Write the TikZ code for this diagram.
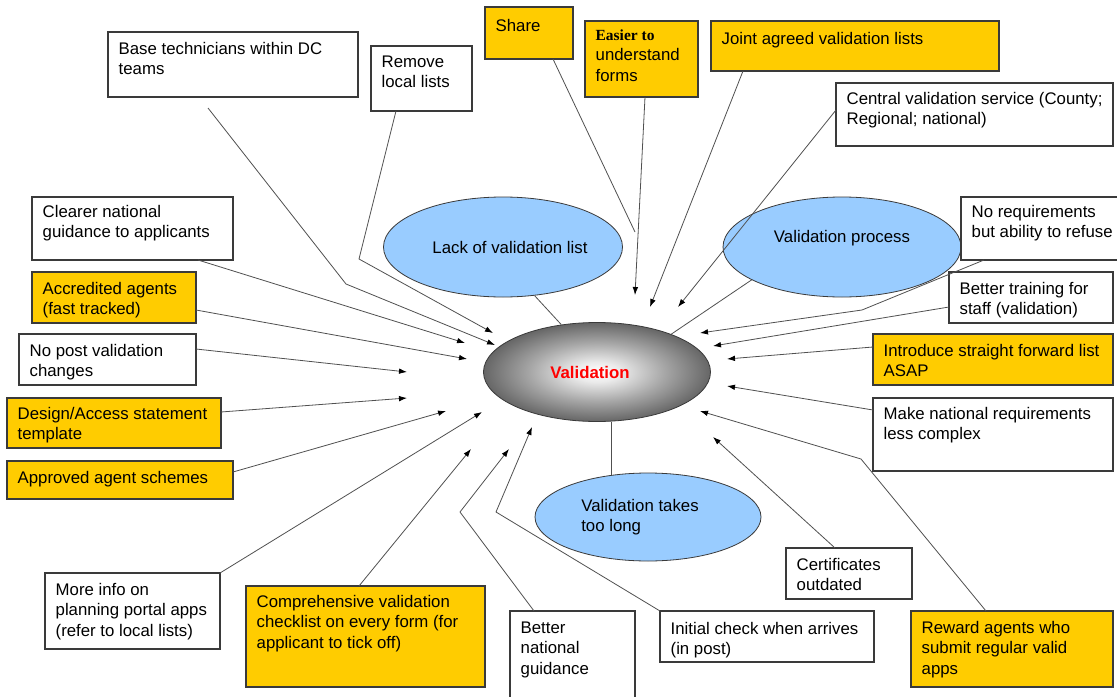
\documentclass[tikz,border=0pt]{standalone}
\usepackage{fontspec}
\setmainfont{Liberation Sans}
\newfontfamily\serifx{Liberation Serif}
\usetikzlibrary{arrows.meta,calc,shapes.geometric}
\definecolor{boxyellow}{HTML}{FFCC00}
\definecolor{ellblue}{HTML}{99CCFF}
\definecolor{linegray}{HTML}{505050}
\definecolor{edgegray}{HTML}{3A3A3A}
\pgfdeclareradialshading{valshade}{\pgfpoint{0bp}{0bp}}{color(0bp)=(white); color(5bp)=(white!92!black); color(15bp)=(black!35); color(25bp)=(black!60); color(50bp)=(black!60)}
\newcommand\bx[8]{%
  \pgfmathsetmacro\bw{(#4-#2)*0.75}%
  \pgfmathsetmacro\bh{(#5-#3)*0.75}%
  \pgfmathsetmacro\bt{#7*0.75}%
  \node[#6, anchor=north west, inner sep=0pt, outer sep=0pt, minimum width=\bw pt, minimum height=\bh pt] (#1) at (#2,#3)
    {\parbox[c][\bh pt][t]{\bw pt}{\hspace*{8pt}\begin{tabular}[t]{@{}l@{}}\rule{0pt}{\bt pt}#8\end{tabular}}};%
}
\tikzset{
  every node/.style={font=\fontsize{12.6}{15.4}\selectfont},
  wbox/.style={draw=edgegray, line width=0.8pt, fill=white},
  ybox/.style={draw=edgegray, line width=0.8pt, fill=boxyellow},
  bell/.style={ellipse, draw=edgegray, line width=0.6pt, fill=ellblue, inner sep=0pt},
  conn/.style={draw=linegray, line width=0.6pt},
  arr/.style={conn, -{Latex[length=6pt,width=4.2pt,color=black]}}
}
\begin{document}
\begin{tikzpicture}[x=0.75pt,y=-0.75pt]
\useasboundingbox[fill=white] (0,0) rectangle (1117,696);

% ellipses
\node[bell, minimum width=178.5pt, minimum height=75pt] (lack) at (503,247) {\hspace*{10.5pt}Lack of validation list};
\node[bell, minimum width=178.5pt, minimum height=75pt] (proc) at (842,247) {Validation process\rule[-15.5pt]{0pt}{15.5pt}};
\node[bell, minimum width=169.5pt, minimum height=66pt, align=left] (takes) at (648,517) {Validation takes\hspace*{12pt}\\too long};
\node[ellipse, draw=edgegray, line width=0.6pt, shading=valshade, inner sep=0pt, minimum width=170.25pt, minimum height=74.25pt] (val) at (597,372) {\color{red}\bfseries Validation\hspace*{10.5pt}};

% boxes
\bx{base}{108}{32}{358}{97}{wbox}{22}{Base technicians within DC\\teams}
\bx{remove}{371}{46}{472}{111}{wbox}{21}{Remove\\local lists}
\bx{share}{485}{7}{573}{59}{ybox}{24}{Share}
\bx{easier}{585}{21}{698}{97}{ybox}{19}{{\serifx\bfseries\fontsize{11.6}{15.4}\selectfont Easier to}\\understand\\forms}
\bx{joint}{711}{21}{999}{71}{ybox}{23}{Joint agreed validation lists}
\bx{central}{836}{83}{1113}{146}{wbox}{21}{Central validation service (County;\\Regional; national)}
\bx{noreq}{961}{197}{1130}{260}{wbox}{20}{No requirements\\but ability to refuse}
\bx{training}{949}{272}{1113}{323}{wbox}{22}{Better training for\\staff (validation)}
\bx{intro}{873}{334}{1113}{385}{ybox}{22}{Introduce straight forward list\\ASAP}
\bx{makenat}{873}{398}{1113}{471}{wbox}{21}{Make national requirements\\less complex}
\bx{cert}{786}{548}{912}{599}{wbox}{22}{Certificates\\outdated}
\bx{reward}{911}{611}{1113}{687}{ybox}{22}{Reward agents who\\submit regular valid\\apps}
\bx{initial}{660}{611}{874}{662}{wbox}{23}{Initial check when arrives\\(in post)}
\bx{bng}{510}{611}{635}{710}{wbox}{22}{Better\\national\\guidance}
\bx{comp}{246}{586}{485}{687}{ybox}{21}{Comprehensive validation\\checklist on every form (for\\applicant to tick off)}
\bx{more}{45}{573}{220}{649}{wbox}{22}{More info on\\planning portal apps\\(refer to local lists)}
\bx{approved}{7}{461}{233}{499}{ybox}{22}{Approved agent schemes}
\bx{design}{7}{398}{221}{448}{ybox}{21}{Design/Access statement\\template}
\bx{nopost}{19}{334}{196}{385}{wbox}{22}{No post validation\\changes}
\bx{accr}{32}{272}{196}{323}{ybox}{22}{Accredited agents\\(fast tracked)}
\bx{clearer}{32}{197}{233}{260}{wbox}{20}{Clearer national\\guidance to applicants}

% free ends and bends
\coordinate (tBase) at (495,345);   \coordinate (kBase) at (346,284);
\coordinate (tRemove) at (493,333); \coordinate (kRemove) at (359,259);
\coordinate (eShare) at (635,232);
\coordinate (tEasier) at (635,295);
\coordinate (tJoint) at (650,307);
\coordinate (tCentral) at (678,307);
\coordinate (tNoreq) at (700,333);  \coordinate (kNoreq) at (862,310);
\coordinate (tTraining) at (713,346);
\coordinate (tIntro) at (727,359);
\coordinate (tMakenat) at (727,386);
\coordinate (tReward) at (700,411); \coordinate (kReward) at (861,459);
\coordinate (tCert) at (713,437);
\coordinate (tInitial) at (532,427); \coordinate (kInitial) at (496,512);
\coordinate (tBng) at (509,449);    \coordinate (kBng) at (460,512);
\coordinate (tComp) at (471,449);
\coordinate (tMore) at (482,412);
\coordinate (tApproved) at (446,411);
\coordinate (tDesign) at (407,398);
\coordinate (tNopost) at (407,372);
\coordinate (tAccr) at (467,359);
\coordinate (tClearer) at (465,343);
\coordinate (vlink) at ($(val.south)+(14,0)$);
\coordinate (vlinkend) at ($(takes.north)+(-37,2)$);

% ellipse links
\draw[conn] (lack.-57) -- (val.127);
\draw[conn] (proc.200) -- (val.27);
\draw[conn] (vlink) -- (vlink |- vlinkend);

% connectors
\draw[arr] ($(base.south west)+(100,11)$) -- (kBase) -- (tBase);
\draw[arr] ($(remove.south west)+(25,0)$) -- (kRemove) -- (tRemove);
\draw[conn] ($(share.south west)+(68,0)$) -- (eShare);
\draw[arr] ($(easier.south west)+(60,0)$) -- (tEasier);
\draw[arr] ($(joint.south west)+(32,0)$) -- (tJoint);
\draw[arr] ($(central.north west)+(0,27)$) -- (tCentral);
\draw[arr] ($(noreq.south west)+(23,0)$) -- (kNoreq) -- (tNoreq);
\draw[arr] ($(training.north west)+(0,35)$) -- (tTraining);
\draw[arr] ($(intro.north west)+(0,13)$) -- (tIntro);
\draw[arr] ($(makenat.north west)+(0,12)$) -- (tMakenat);
\draw[arr] ($(reward.north west)+(75,0)$) -- (kReward) -- (tReward);
\draw[arr] ($(cert.north west)+(49,0)$) -- (tCert);
\draw[arr] (initial.north west) -- (kInitial) -- (tInitial);
\draw[arr] ($(bng.north west)+(24,0)$) -- (kBng) -- (tBng);
\draw[arr] ($(comp.north west)+(113,0)$) -- (tComp);
\draw[arr] (more.north east) -- (tMore);
\draw[arr] ($(approved.north east)+(0,11)$) -- (tApproved);
\draw[arr] ($(design.north east)+(0,14)$) -- (tDesign);
\draw[arr] ($(nopost.north east)+(0,15)$) -- (tNopost);
\draw[arr] ($(accr.north east)+(0,38)$) -- (tAccr);
\draw[arr] ($(clearer.south west)+(166,0)$) -- (tClearer);
\end{tikzpicture}
\end{document}
